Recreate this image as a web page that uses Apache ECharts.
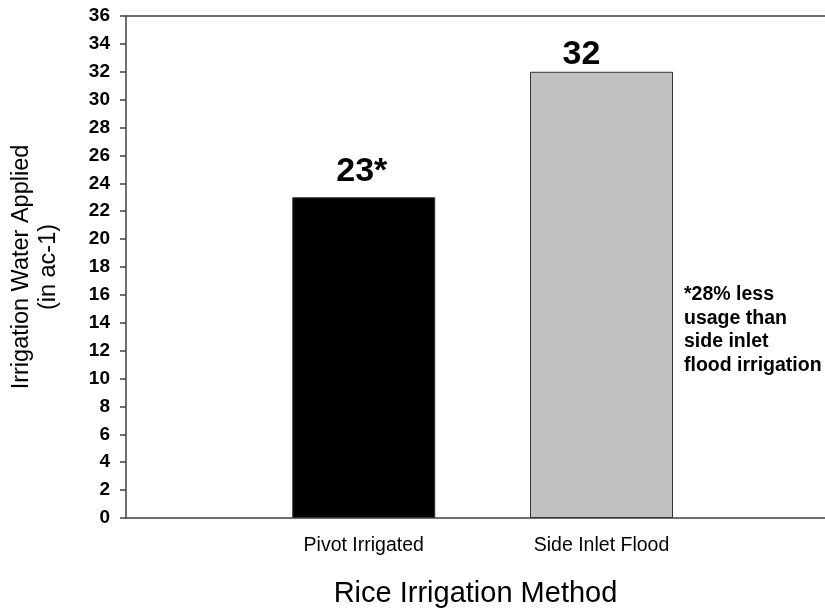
<!DOCTYPE html>
<html>
<head>
<meta charset="utf-8">
<script src="https://cdn.jsdelivr.net/npm/echarts@6/dist/echarts.min.js"></script>
<style>
html,body{margin:0;padding:0;background:#fff;}
#chart{width:825px;height:610px;}
</style>
</head>
<body>
<div id="chart"></div>
<script>
var categories = ['Pivot Irrigated', 'Side Inlet Flood'];
var values = [23, 32];
var marks = ['*', ''];
var barColors = ['#000000', '#c0c0c0'];
var yTicks = [0, 36, 2]; // min, max, interval
var note = ['*28% less', 'usage than', 'side inlet', 'flood irrigation'];

var FONT = '"Liberation Sans", Arial, Helvetica, sans-serif';
var chart = echarts.init(document.getElementById('chart'), null, {renderer: 'canvas'});

var labelOffsets = [[-2, 0], [-20, 9]];

var data = categories.map(function (c, i) {
  return {
    value: [i + 1, values[i]],
    itemStyle: {color: barColors[i]},
    label: {offset: labelOffsets[i]}
  };
});

var option = {
  animation: false,
  backgroundColor: '#ffffff',
  grid: {left: 126, right: 0, top: 16, bottom: 92, containLabel: false, outerBoundsMode: 'none'},
  xAxis: [{
    type: 'value',
    min: 0,
    max: 2.94,
    interval: 1,
    position: 'bottom',
    name: 'Rice Irrigation Method',
    nameLocation: 'middle',
    nameGap: 61,
    nameTextStyle: {fontFamily: FONT, fontSize: 29, color: '#000'},
    axisLine: {show: true, lineStyle: {color: '#404040', width: 1.5}},
    axisTick: {show: false},
    splitLine: {show: false},
    axisLabel: {
      margin: 18,
      fontFamily: FONT, fontSize: 19.5, color: '#000',
      showMinLabel: false, showMaxLabel: false,
      formatter: function (v) {
        var k = Math.round(v);
        if (Math.abs(v - k) < 1e-6 && k >= 1 && k <= categories.length) return categories[k - 1];
        return '';
      }
    }
  }, {
    type: 'value',
    min: 0,
    max: 2.94,
    position: 'top',
    axisLine: {show: true, onZero: false, lineStyle: {color: '#404040', width: 1.5}},
    axisTick: {show: false},
    axisLabel: {show: false},
    splitLine: {show: false}
  }],
  yAxis: {
    type: 'value',
    min: yTicks[0],
    max: yTicks[1],
    interval: yTicks[2],
    name: 'Irrigation Water Applied\n(in ac-1)',
    nameLocation: 'middle',
    nameGap: 64,
    nameRotate: 90,
    nameTextStyle: {fontFamily: FONT, fontSize: 23.5, color: '#000', lineHeight: 27, align: 'center'},
    axisLine: {show: true, lineStyle: {color: '#404040', width: 1.5}},
    axisTick: {show: true, inside: false, length: 6, lineStyle: {color: '#404040', width: 1.5}},
    splitLine: {show: false},
    axisLabel: {margin: 16, fontFamily: FONT, fontSize: 19, fontWeight: 'bold', color: '#000'}
  },
  series: [{
    type: 'bar',
    xAxisIndex: 0,
    barWidth: 143,
    data: data,
    itemStyle: {borderColor: '#333333', borderWidth: 1},
    label: {
      show: true,
      position: 'top',
      distance: 9,
      fontFamily: FONT,
      fontSize: 34,
      fontWeight: 'bold',
      color: '#000',
      formatter: function (p) { return values[p.dataIndex] + marks[p.dataIndex]; }
    }
  }],
  graphic: [{
    type: 'text',
    left: 684,
    top: 283,
    style: {
      text: note.join('\n'),
      font: 'bold 19.5px ' + FONT,
      lineHeight: 23.5,
      fill: '#000'
    }
  }]
};
chart.setOption(option);
</script>
</body>
</html>
